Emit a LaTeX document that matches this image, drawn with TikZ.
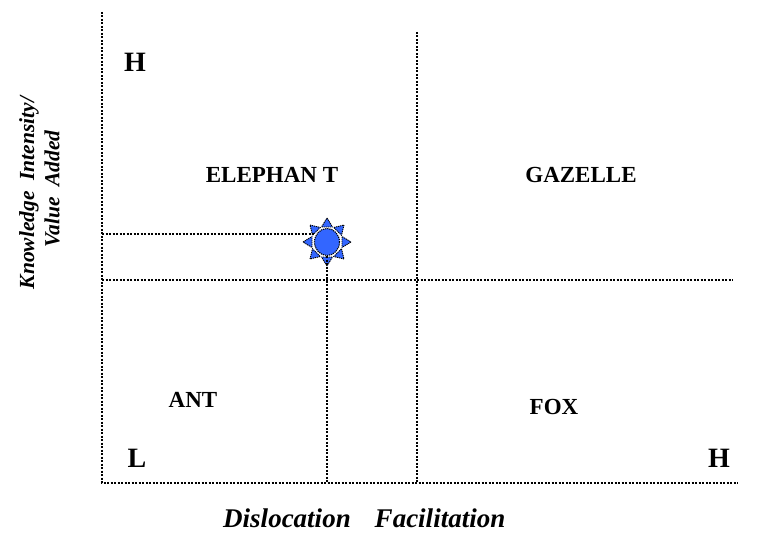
\documentclass[tikz,border=0pt]{standalone}
\usepackage{fontspec}
\setmainfont{Liberation Serif}
\usetikzlibrary{shapes.geometric,calc}
\definecolor{sunblue}{RGB}{51,102,255}
\begin{document}
\begin{tikzpicture}[x=1pt,y=-1pt,
  dotline/.style={line width=1.8pt,dash pattern=on 2pt off 1.5pt},
  quad/.style={font=\fontsize{23}{25}\selectfont\bfseries,inner sep=0pt},
  corner/.style={font=\fontsize{28}{30}\selectfont\bfseries,inner sep=0pt},
  axlabel/.style={font=\fontsize{27}{30}\selectfont\bfseries\itshape,inner sep=0pt},
  ylab/.style={font=\fontsize{21.5}{22}\selectfont\bfseries\itshape,inner sep=0pt,rotate=90},
  ray/.style={fill=sunblue,draw=black,line width=0.9pt,dash pattern=on 1.2pt off 0.8pt}]
\useasboundingbox (0,0) rectangle (763,548);
% axes and grid coordinates
\coordinate (ytop) at (102,12);
\coordinate (origin) at (102,483);
\coordinate (xend) at (738,483);
\coordinate (vtop) at (417,32);
\coordinate (vbot) at (417,483);
\coordinate (hleft) at (102,280);
\coordinate (hright) at (733,280);
\coordinate (sleft) at (102,234);
\coordinate (sbot) at (327,483);
% sun
\node[ellipse,minimum width=25pt,minimum height=27pt,inner sep=0pt,fill=sunblue,
      draw=black,line width=1.1pt,dash pattern=on 1.2pt off 0.9pt] (sun) at (327,242) {};
\foreach \a in {0,45,...,315}{
  \draw[ray] ($(sun.center)+(\a:24)$) -- ($(sun.center)+(\a:15)+(\a+90:5.5)$)
     -- ($(sun.center)+(\a:15)+(\a-90:5.5)$) -- cycle;
}
\draw[dotline] (ytop) -- (origin) -- (xend);
\draw[dotline] (vtop) -- (vbot);
\draw[dotline] (hleft) -- (hright);
\draw[dotline] (sleft) -- (sleft -| sun.west);
\draw[dotline] (sun.south) -- (sbot);
% labels
\node[corner] (htop) at (135,62) {H};
\node[corner] (lbot) at (137,458) {L};
\node[corner] (hbot) at (719,458) {H};
\node[quad] (eleph) at (272,175) {ELEPHAN T};
\node[quad] (gaz) at (581,175) {GAZELLE};
\node[quad] (ant) at (193,400) {ANT};
\node[quad] (fox) at (554,407) {FOX};
\node[axlabel] (disl) at (287,518) {Dislocation};
\node[axlabel] (faci) at (440,518) {Facilitation};
\node[ylab] (kiv) at (29,193) {Knowledge\ \ Intensity/};
\node[ylab] (va) at (52,189) {Value\ \ Added};
\end{tikzpicture}
\end{document}
